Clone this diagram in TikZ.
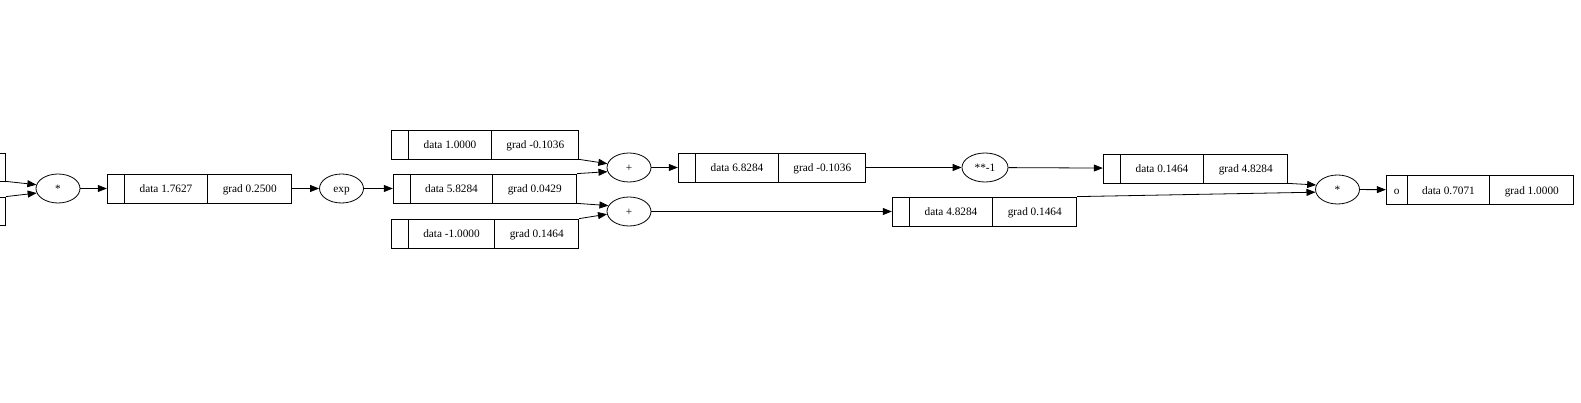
\documentclass[tikz,border=0pt]{standalone}
\usepackage{fontspec}
\setmainfont{Liberation Serif}
\usetikzlibrary{shapes.multipart,shapes.geometric,arrows.meta}

% one field of a value record: width in pt, then its text
\newcommand{\fld}[2]{\makebox[#1pt]{\rule[-10.3pt]{0pt}{29pt}#2}}

\begin{document}
\begin{tikzpicture}[x=1pt, y=-1pt, line width=0.8pt,
    >={Triangle[length=9pt,width=7pt]},
    valbox/.style={draw, rectangle split, rectangle split horizontal,
        rectangle split parts=3, inner sep=0pt,
        font=\fontsize{11.3}{13}\selectfont},
    opnode/.style={draw, ellipse, minimum width=44pt, minimum height=29pt,
        inner sep=0pt, text height=10.9pt, text depth=2.5pt,
        font=\fontsize{11.3}{13}\selectfont}]
    \useasboundingbox (0,0) rectangle (1581,403);
    \clip (0,0) rectangle (1581,403);

    % inputs cut off at the left edge
    \node[draw, minimum width=100pt, minimum height=28pt, anchor=east] (lt) at (6,167) {};
    \node[draw, minimum width=100pt, minimum height=28pt, anchor=east] (lb) at (6,211) {};

    \node[opnode] (mul1) at (58,188.5) {*};
    \node[valbox] (v1) at (199.5,188.5)
        {\fld{17}{}\nodepart{two}\fld{82}{data 1.7627}\nodepart{three}\fld{84}{grad 0.2500}};
    \node[opnode] (exp) at (341.5,188.5) {exp};

    \node[valbox] (v2) at (485,144.5)
        {\fld{17}{}\nodepart{two}\fld{82}{data 1.0000}\nodepart{three}\fld{87}{grad -0.1036}};
    \node[valbox] (v3) at (485,188.5)
        {\fld{17}{}\nodepart{two}\fld{81}{data 5.8284}\nodepart{three}\fld{84}{grad 0.0429}};
    \node[valbox] (v4) at (485,233.5)
        {\fld{17}{}\nodepart{two}\fld{85}{data -1.0000}\nodepart{three}\fld{84}{grad 0.1464}};

    \node[opnode] (add1) at (629,167.5) {+};
    \node[opnode] (add2) at (629,211.5) {+};

    \node[valbox] (v5) at (772,167.5)
        {\fld{17}{}\nodepart{two}\fld{82}{data 6.8284}\nodepart{three}\fld{87}{grad -0.1036}};
    \node[valbox] (v6) at (984.5,211.5)
        {\fld{17}{}\nodepart{two}\fld{82}{data 4.8284}\nodepart{three}\fld{84}{grad 0.1464}};
    \node[opnode, minimum width=46pt] (pow) at (985,167.5) {**-1};
    \node[valbox] (v7) at (1195.5,168.5)
        {\fld{17}{}\nodepart{two}\fld{82}{data 0.1464}\nodepart{three}\fld{84}{grad 4.8284}};

    \node[opnode] (mul2) at (1337.5,189.5) {*};
    \node[valbox] (out) at (1480,190)
        {\fld{21}{o}\nodepart{two}\fld{81}{data 0.7071}\nodepart{three}\fld{84}{grad 1.0000}};

    \foreach \a/\b in {mul1/v1, v1/exp, exp/v3, add1/v5, add2/v6, v5/pow, pow/v7, mul2/out}
        \draw[->] (\a) -- (\b);

    \draw[->] (lt.south east) -- (mul1.170);
    \draw[->] (lb.north east) -- (mul1.192);
    \draw[->] (v2.south east) -- (add1.170);
    \draw[->] (v3.north east) -- (add1.191);
    \draw[->] (v3.south east) -- (add2.164);
    \draw[->] (v4.north east) -- (add2.187);
    \draw[->] (v7.south east) -- (mul2.168);
    \draw[->] (v6.north east) -- (mul2.187);
\end{tikzpicture}
\end{document}
